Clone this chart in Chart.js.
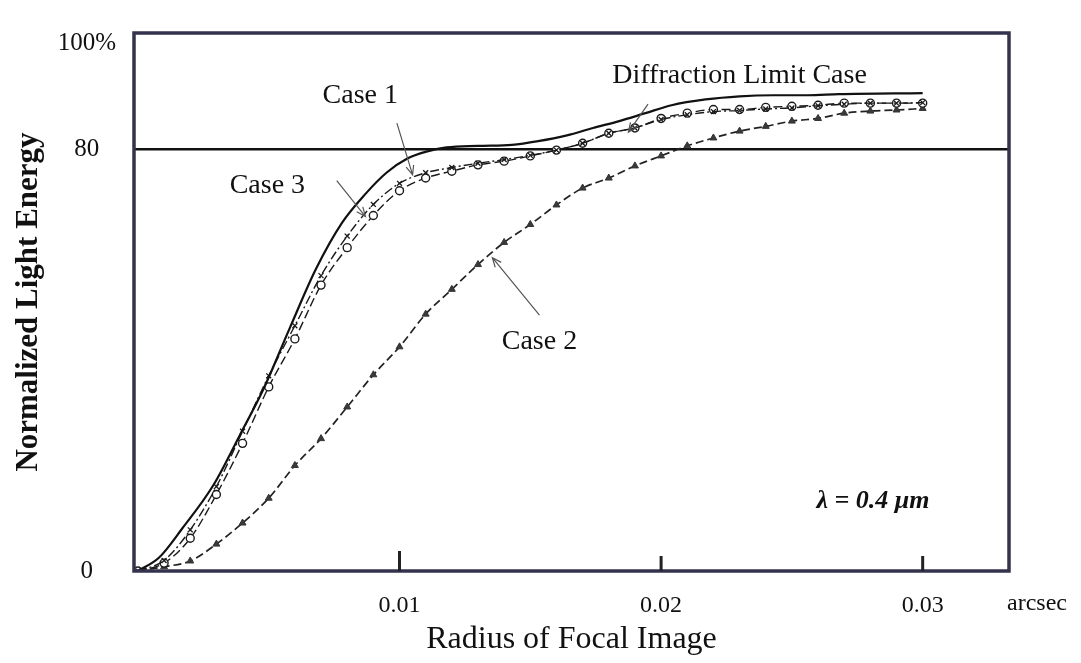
<!DOCTYPE html>
<html>
<head>
<meta charset="utf-8">
<script src="https://cdn.jsdelivr.net/npm/chart.js@4"></script>
<style>
  html, body { margin: 0; padding: 0; background: #fff; }
  #wrap { width: 1081px; height: 663px; position: relative; }
</style>
</head>
<body>
<div id="wrap"><canvas id="chart"></canvas></div>
<script>
// radius (arcsec) of the plotted markers
const radius = [0, 0.001, 0.002, 0.003, 0.004, 0.005, 0.006, 0.007, 0.008, 0.009, 0.010,
  0.011, 0.012, 0.013, 0.014, 0.015, 0.016, 0.017, 0.018, 0.019, 0.020,
  0.021, 0.022, 0.023, 0.024, 0.025, 0.026, 0.027, 0.028, 0.029, 0.030];
// normalized energy (%)
const case1 = [0, 2, 7.8, 16, 26.5, 37, 46.5, 56, 63.5, 69.5, 73.5,
  75.5, 76.5, 77.3, 78, 78.8, 79.8, 81.1, 83, 84, 85.6,
  86.5, 87.1, 87.3, 87.6, 87.8, 88.2, 88.5, 88.7, 88.7, 88.8];
const case2 = [0, 0.8, 1.9, 5.1, 9.1, 13.8, 20.0, 25.1, 31.1, 37.2, 42.5,
  48.7, 53.4, 58.1, 62.3, 65.7, 69.4, 72.6, 74.5, 76.8, 78.7,
  80.6, 82.1, 83.4, 84.3, 85.3, 85.8, 86.8, 87.2, 87.4, 87.7];
const case3 = [0, 1.5, 6.2, 14.5, 24.2, 34.9, 44.0, 54.2, 61.3, 67.4, 72.1,
  74.5, 75.8, 77.0, 77.7, 78.7, 79.8, 81.1, 83.0, 84.0, 85.8,
  86.8, 87.5, 87.5, 87.9, 88.1, 88.3, 88.7, 88.7, 88.7, 88.7];
// diffraction limit curve (no markers)
const diffRadius = [0, 0.0008, 0.0017, 0.0029, 0.0039, 0.0048, 0.0058, 0.0068, 0.0078, 0.0087,
  0.0095, 0.0103, 0.0111, 0.0118, 0.013, 0.0143, 0.0153, 0.0164, 0.0174, 0.0184,
  0.0194, 0.0204, 0.0217, 0.023, 0.0243, 0.0256, 0.0268, 0.030];
const diffEnergy = [0, 2.5, 8.1, 16.4, 25.8, 34.5, 46, 57.2, 66.0, 71.5,
  75.5, 78.2, 79.6, 80.3, 80.6, 80.8, 81.5, 82.6, 84.0, 85.3,
  86.8, 88.3, 89.4, 90.0, 90.2, 90.2, 90.4, 90.6];

const xTicks = [0.01, 0.02, 0.03];
const yTicks = [0, 80, 100];

const notes = [
  { text: "Case 1", x: 0.0085, y: 90.2 },
  { text: "Case 3", x: 0.00495, y: 73.0 },
  { text: "Diffraction Limit Case", x: 0.0230, y: 94.0 },
  { text: "Case 2", x: 0.01535, y: 43.4 },
];
const arrows = [
  { from: [0.0099, 84.9], to: [0.0105, 75.1] },
  { from: [0.0076, 74.0], to: [0.0087, 67.2] },
  { from: [0.0195, 88.5], to: [0.01875, 83.2] },
  { from: [0.01535, 48.5], to: [0.01355, 59.4] },
];

const SERIF = '"Liberation Serif", "Times New Roman", serif';
const FRAME = "#34334e";

const pts = (xs, ys) => xs.map((x, i) => ({ x, y: ys[i] }));

const extras = {
  id: "extras",
  afterDatasetsDraw(chart) {
    const { ctx, chartArea: a, scales: { x, y } } = chart;
    ctx.save();
    // arrows
    ctx.strokeStyle = "#555";
    ctx.lineWidth = 1.2;
    arrows.forEach((ar) => {
      const x1 = x.getPixelForValue(ar.from[0]), y1 = y.getPixelForValue(ar.from[1]);
      const x2 = x.getPixelForValue(ar.to[0]), y2 = y.getPixelForValue(ar.to[1]);
      const ang = Math.atan2(y2 - y1, x2 - x1);
      ctx.beginPath();
      ctx.moveTo(x1, y1);
      ctx.lineTo(x2, y2);
      ctx.moveTo(x2 - 10 * Math.cos(ang - 0.4), y2 - 10 * Math.sin(ang - 0.4));
      ctx.lineTo(x2, y2);
      ctx.lineTo(x2 - 10 * Math.cos(ang + 0.4), y2 - 10 * Math.sin(ang + 0.4));
      ctx.stroke();
    });
    // labels
    ctx.fillStyle = "#111";
    ctx.textAlign = "center";
    ctx.textBaseline = "middle";
    ctx.font = "28px " + SERIF;
    notes.forEach((n) => ctx.fillText(n.text, x.getPixelForValue(n.x), y.getPixelForValue(n.y)));
    ctx.font = "bold italic 26px " + SERIF;
    ctx.fillText("\u03BB = 0.4 \u03BCm", x.getPixelForValue(0.0281), y.getPixelForValue(13.2));
    // frame
    ctx.strokeStyle = FRAME;
    ctx.lineWidth = 3.5;
    ctx.strokeRect(a.left, a.top, a.right - a.left, a.bottom - a.top);
    // inner tick marks
    ctx.strokeStyle = "#222";
    ctx.lineWidth = 3;
    xTicks.forEach((v, i) => {
      const px = x.getPixelForValue(v);
      ctx.beginPath();
      ctx.moveTo(px, a.bottom);
      ctx.lineTo(px, a.bottom - (i === 0 ? 20 : 15));
      ctx.stroke();
    });
    // unit
    ctx.fillStyle = "#111";
    ctx.font = "24px " + SERIF;
    ctx.fillText("arcsec", a.right + 28, a.bottom + 33);
    ctx.restore();
  },
};

new Chart(document.getElementById("chart"), {
  type: "scatter",
  data: {
    datasets: [
      {
        label: "Diffraction Limit Case",
        data: pts(diffRadius, diffEnergy),
        showLine: true, borderColor: "#111", borderWidth: 2.2, pointRadius: 0,
        cubicInterpolationMode: "monotone",
      },
      {
        label: "Case 1",
        data: pts(radius, case1),
        showLine: true, borderColor: "#1a1a1a", borderWidth: 1.4, borderDash: [9, 3, 2, 3],
        pointStyle: "crossRot", pointRadius: 3.5, pointBorderWidth: 1.3, pointBorderColor: "#1a1a1a",
        cubicInterpolationMode: "monotone",
      },
      {
        label: "Case 3",
        data: pts(radius, case3),
        showLine: true, borderColor: "#1a1a1a", borderWidth: 1.4, borderDash: [9, 4],
        pointStyle: "circle", pointRadius: 4, pointBorderWidth: 1.4,
        pointBorderColor: "#1a1a1a", pointBackgroundColor: "#fff",
        cubicInterpolationMode: "monotone",
      },
      {
        label: "Case 2",
        data: pts(radius, case2),
        showLine: true, borderColor: "#222", borderWidth: 1.7, borderDash: [8, 4],
        pointStyle: "triangle", pointRadius: 4, pointBorderWidth: 1,
        pointBorderColor: "#333", pointBackgroundColor: "#3a3a3a",
        cubicInterpolationMode: "monotone",
      },
    ],
  },
  options: {
    responsive: true,
    maintainAspectRatio: false,
    animation: false,
    layout: { padding: { top: 30, right: 72, bottom: 0, left: 0 } },
    plugins: { legend: { display: false }, tooltip: { enabled: false } },
    scales: {
      x: {
        type: "linear",
        min: -0.00015,
        max: 0.0333,
        afterBuildTicks: (s) => { s.ticks = xTicks.map((v) => ({ value: v })); },
        afterFit: (s) => { s.height = 92; },
        grid: { display: false, drawTicks: false },
        border: { display: false },
        ticks: {
          padding: 20,
          color: "#111",
          font: { family: SERIF, size: 24 },
          maxRotation: 0,
          callback: (v) => v.toFixed(2),
        },
        title: {
          display: true,
          text: "Radius of Focal Image",
          color: "#111",
          font: { family: SERIF, size: 32 },
          padding: { top: 0, bottom: 4 },
        },
      },
      y: {
        type: "linear",
        min: 0,
        max: 102,
        afterBuildTicks: (s) => { s.ticks = yTicks.map((v) => ({ value: v })); },
        afterFit: (s) => { s.width = 134; },
        grid: {
          drawTicks: false,
          lineWidth: 2.5,
          color: (c) => (c.tick && c.tick.value === 80 ? "#111" : "rgba(0,0,0,0)"),
        },
        border: { display: false },
        ticks: {
          padding: 18,
          crossAlign: "center",
          color: "#111",
          font: { family: SERIF, size: 25 },
          callback: (v) => (v === 100 ? "100%" : String(v)),
        },
        title: {
          display: true,
          text: "Normalized Light Energy",
          color: "#111",
          font: { family: SERIF, size: 31, weight: "bold" },
          padding: { top: 10, bottom: 0 },
        },
      },
    },
  },
  plugins: [extras],
});
</script>
</body>
</html>
